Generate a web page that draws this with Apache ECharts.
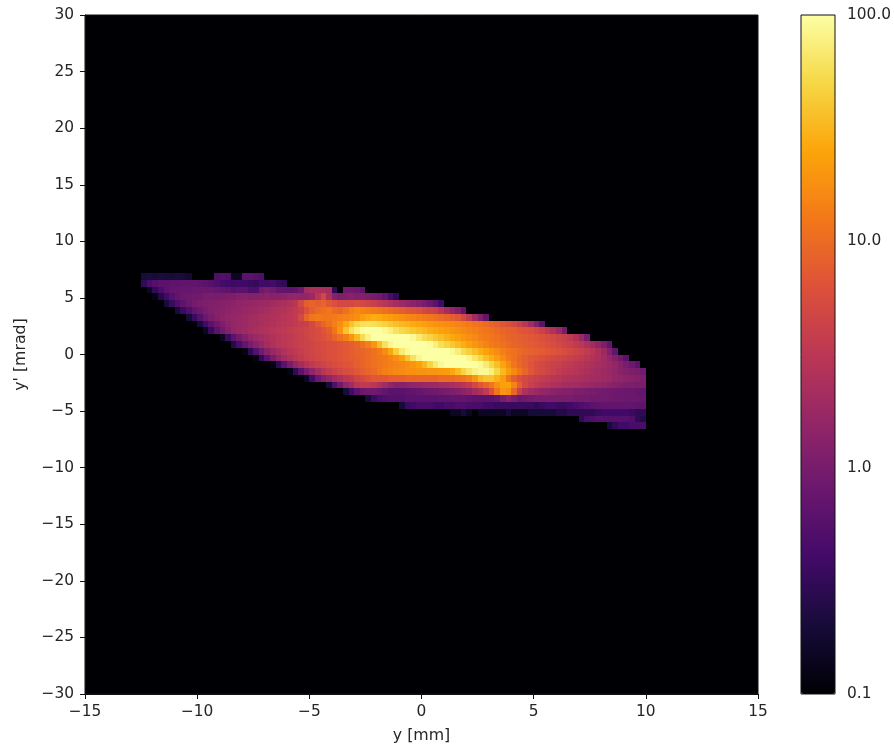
<!DOCTYPE html>
<html><head><meta charset="utf-8">
<style>html,body{margin:0;padding:0;background:#fff}#c{width:894px;height:745px}</style>
<script src="https://cdn.jsdelivr.net/npm/echarts@6/dist/echarts.min.js"></script>
</head><body><div id="c"></div>
<script>
// Intensity per row of y' bins (0.6 mrad), columns are 0.25 mm wide from y = -12.5 mm.
const cbMinor = [0.2,0.3,0.4,0.5,0.6,0.7,0.8,0.9,2,3,4,5,6,7,8,9,20,30,40,50,60,70,80,90];
const rowBottoms = [6.6,6,5.4,4.8,4.2,3.6,3,2.4,1.8,1.2,0.6,0,-0.6,-1.2,-1.8,-2.4,-3,-3.6,-4.2,-4.8,-5.4,-6,-6.6];
const rowStarts  = [0,0,1,2,3,5,7,9,11,14,15,18,20,23,26,29,33,36,40,46,55,78,83];
const r66=[.2,.22,.2,.22,.2,.2,.22,.2,.18,0,0,0,0,.5,.55,.5,.15,.15,.6,.6,.55,.5];
const r60=[.3,.45,.55,.6,.62,.65,.65,.68,.7,.7,.65,.6,.55,.5,.42,.4,.38,.4,.38,.35,.32,.4,.4,.42,.35,.3];
const r54=[.15,.3,.45,.6,.7,.72,.75,.75,.8,.8,.8,.8,.75,.7,.65,.55,.6,.6,.5,.5,.9,1,.9,.7,.7,.65,.7,.9,2,2.4,2.4,2.3,2.2,.3,.1,.9,.9,.85,.7];
const r48=[.12,.25,.4,.55,.7,.8,.85,.9,.9,1,1,1,1.05,1.1,1.1,1.2,1.3,1.2,1.25,1.3,1.4,1.3,1.3,1.4,1.5,1.6,1.5,1.5,1.8,3,5,2.5,1.3,1.1,1.2,1.3,1.2,1.2,1.1,1,.9,.7,.45,.3];
const r42=[.1,.2,.35,.5,.65,.8,.95,1.05,1.1,1.15,1.2,1.25,1.3,1.4,1.5,1.5,1.6,1.7,1.8,1.9,2,2.2,2.4,2.6,3,5,8,9,8,9,7,6,5,5,5,5.5,5,4.5,4,3.5,3,2.6,2.2,1.8,1.6,1.4,1.2,1,.8,.6,.4];
const r36=[.1,.2,.35,.5,.7,.85,1,1.15,1.25,1.3,1.4,1.5,1.6,1.7,1.8,1.9,2,2.2,2.4,2.6,2.7,3,3.5,4,6,8,10,11,12,10,9,11,14,16,15,14,13,12,11,10,9,8,7,6.5,6,5,4.5,4,3,2.2,1.6,1.2,.7];
const r30=[.1,.2,.35,.55,.8,1,1.2,1.4,1.5,1.6,1.7,1.8,2,2.1,2.3,2.4,2.5,2.7,2.9,3.2,3.5,5,9,12,13,12,12,13,14,15,16,18,22,26,28,27,24,22,20,18,16,15,14,13,12,11,10,9,8,7,5,3.5,2,1.2,.7];
const r24=[.1,.2,.4,.6,.85,1.1,1.4,1.6,1.7,1.8,2,2.1,2.3,2.5,2.6,2.8,3,3.2,3.5,3.8,4,5,7,9,11,14,18,26,38,50,58,60,58,52,46,40,36,32,30,27,25,23,21,19,18,17,16,15,14,13,12,11,10,9,8,7,6,5,4,3,2,1.2,.6];
const r18=[.15,.35,.6,.9,1.2,1.5,1.7,1.9,2.1,2.3,2.5,2.7,2.9,3.1,3.3,3.6,3.9,4.2,4.6,5,5.5,6.5,8,12,20,38,60,80,95,100,100,100,90,75,60,52,46,40,36,32,28,26,24,22,20,18,16,15,14,13,12,11,10,9,8.5,8,7,6.5,6,5,4.2,3.4,2.6,1.8,1];
const r12=[.15,.35,.6,.9,1.2,1.5,1.8,2,2.3,2.6,2.9,3.1,3.4,3.7,4,4.5,5,5.5,6,7,9,11,14,20,32,55,80,100,100,100,100,100,100,100,90,70,56,48,40,35,30,26,23,20,18,16,14,13,12,11,10,9,8.5,8,7.5,7,6.5,6,5.5,5,4.5,4,3.4,2.6,1.8,1];
const r06=[.1,.25,.45,.7,1,1.3,1.7,2.1,2.5,2.9,3.2,3.5,3.8,4,4.3,4.6,5,5.4,5.8,6.2,6.7,7.2,8,9,11,14,20,35,60,85,100,100,100,100,100,100,95,75,58,48,40,34,28,24,20,17,15,13,12,11,10,9,8.5,8,7.5,7,6.5,6,5.5,5,4.5,4,3.5,3,2.5,2,1.5,1.1,.7];
const r00=[.12,.3,.55,.9,1.3,1.7,2.1,2.6,3,3.4,3.8,4.2,4.6,5,5.4,5.8,6.2,6.7,7.2,7.8,8.4,9,10,11,13,17,26,45,70,90,100,100,100,100,100,100,100,90,72,55,44,36,29,24,20,17,14,12,11,10,9,8.5,8,7.5,7,6.5,6,5.5,5,4.5,4,3.5,3,2.4,1.8,1.2,.7];
const m06=[.12,.3,.6,1,1.5,2,2.5,3,3.5,4,4.5,4.9,5.3,5.7,6.1,6.6,7.1,7.6,8.2,9,10,11,12,13,15,18,24,38,60,85,100,100,100,100,100,100,100,100,85,65,48,36,28,22,17,13,11,9,8,7,6.5,6,5.5,5,4.7,4.4,4,3.7,3.4,3,2.7,2.4,2,1.6,1.2,.9,.6];
const m12=[.12,.3,.6,1,1.5,2.1,2.7,3.3,3.9,4.5,5,5.5,6,6.5,7,8,9,10,11,12,13,14,15,16,18,20,24,32,48,70,90,100,100,100,100,100,100,90,70,50,36,25,17,12,9.5,8,6.5,5.5,5,4.5,4.2,3.9,3.6,3.3,3,2.8,2.6,2.4,2.2,2,1.8,1.6,1.3,1,.8,.6];
const m18=[.12,.3,.6,1,1.5,2.2,2.9,3.6,4.2,4.8,5.5,6,7,8,9,10,12,14,15,16,17,18,18,19,19,20,20,21,22,26,34,48,65,80,90,90,75,50,32,22,16,12,9,7,5.5,5,4.5,4,3.6,3.2,3,2.8,2.6,2.4,2.2,2,1.9,1.7,1.5,1.3,1.2,1.1,1,.9];
const m24=[.15,.4,.8,1.2,1.5,2,2.5,3,3.5,4.5,5,6,7,7,7,8,8,8,9,9,9,9,9,9,10,10,10,11,12,14,20,32,38,38,30,22,12,8,6,5,4.5,4,3.6,3.3,3,2.8,2.6,2.5,2.4,2.3,2.2,2.1,2,1.9,1.8,1.6,1.5,1.4,1.3,1.2,1.1];
const m30=[.2,.5,.9,1.5,2,3,3.5,3.5,3,2.5,2,1.5,1.3,1.3,1.4,1.5,1.6,1.7,1.8,1.9,2,2.2,2.4,2.6,3,3.5,5,7,9,12,18,24,24,15,8,5,4,3.5,3,2.8,2.6,2.4,2.2,2.1,2,1.9,1.8,1.7,1.6,1.5,1.4,1.3,1.2,1.1,1.1,1,1];
const m36=[.2,.4,.6,.8,.9,.9,.8,.7,.6,.6,.6,.65,.7,.75,.8,.85,.9,.95,1,1.1,1.2,1.4,1.6,2,2.5,3.5,6,12,20,18,9,4,2.5,2,1.8,1.6,1.5,1.4,1.3,1.2,1.2,1.1,1.1,1,1,.95,.9,.9,.85,.85,.8,.8,.75,.7];
const m42=[.2,.35,.45,.5,.55,.55,.55,.6,.6,.6,.6,.6,.6,.65,.65,.7,.7,.7,.65,.6,.6,.6,.6,.7,1,1.3,1,.8,.9,.95,1,1,1,1,1,1,1,.95,.95,.95,.9,.9,.9,.9,.85,.85,.8,.8,.8,.75];
const m48=[.2,.35,.4,.45,.45,.45,.4,.4,.45,.45,.5,.5,.45,.45,.45,.4,.4,.35,.35,.35,.35,.35,.35,.35,.3,.35,.4,.4,.35,.35,.4,.45,.5,.55,.6,.65,.7,.7,.7,.7,.7,.7,.65,.65];
const m54=[.15,.15,.2,.15,.1,.15,.15,.15,.15,.15,.2,.15,.15,.15,.2,.2,.2,.2,.2,.25,.25,.3,.3,.3,.3,.3,.35,.4,.4,.4,.4,.4,.35,.3,.3];
const m60=[.3,.45,.5,.55,.55,.55,.55,.55,.55,.5,.3,.25];
const m66=[.2,.3,.4,.4,.45,.45,.45];
const rows=[r66,r60,r54,r48,r42,r36,r30,r24,r18,r12,r06,r00,m06,m12,m18,m24,m30,m36,m42,m48,m54,m60,m66];

const inferno=['#000004','#160b39','#420a68','#6a176e','#932667','#bc3754','#dd513a','#f37819','#fca50a','#f6d746','#fcffa4'];
const binX=0.25, binY=0.6;
const cells=[];
rows.forEach((vals,r)=>{
  vals.forEach((v,k)=>{
    const i=rowStarts[r]+k;
    if(v>0&&i<90) cells.push([-12.5+(i+0.5)*binX,rowBottoms[r]+binY/2,Math.log10(v)]);
  });
});
const txt='#262626', fs=15.4, ff='"DejaVu Sans"';
const minus=v=>String(v).replace('-','\u2212');
const lbl=(extra)=>Object.assign({color:txt,fontSize:fs,fontFamily:ff},extra||{});
const line={lineStyle:{color:'#111',width:1}};
const chart=echarts.init(document.getElementById('c'),null,{renderer:'canvas'});
chart.setOption({
  animation:false,
  backgroundColor:'#fff',
  grid:[
    {left:85,top:15,width:673,height:679,outerBoundsMode:'none',show:true,backgroundColor:'#000004',borderColor:'#111',borderWidth:1},
    {left:801,top:15,width:34,height:679,outerBoundsMode:'none',show:true,backgroundColor:'transparent',borderColor:'#111',borderWidth:1,z:5}
  ],
  xAxis:[
    {type:'value',gridIndex:0,min:-15,max:15,interval:5,position:'bottom',splitLine:{show:false},
     axisLine:{onZero:false,...line},axisTick:{length:5,...line},
     axisLabel:lbl({formatter:minus,margin:10}),
     name:'y [mm]',nameLocation:'middle',nameGap:34,nameTextStyle:lbl({fontSize:15.8})},
    {type:'category',gridIndex:1,data:[''],show:false}
  ],
  yAxis:[
    {type:'value',gridIndex:0,min:-30,max:30,interval:5,position:'left',splitLine:{show:false},
     axisLine:{onZero:false,...line},axisTick:{length:5,...line},
     axisLabel:lbl({formatter:minus,margin:11}),
     name:"y' [mrad]",nameLocation:'middle',nameGap:56,nameTextStyle:lbl({fontSize:15.8})},
    {type:'log',logBase:10,gridIndex:1,min:0.1,max:100,position:'right',z:6,splitLine:{show:false},
     axisLine:{onZero:false,...line},axisTick:{length:6,...line},
     axisLabel:lbl({margin:12,formatter:v=>Number(v).toFixed(1)})},
    {type:'value',gridIndex:1,min:-1,max:2,position:'right',z:6,splitLine:{show:false},
     axisLine:{show:false,onZero:false},axisTick:{length:3,customValues:cbMinor.map(Math.log10),...line},
     axisLabel:{show:false}}
  ],
  visualMap:{type:'continuous',seriesIndex:0,dimension:2,min:-1,max:2,inRange:{color:inferno},
    left:801,top:15,itemWidth:34,itemHeight:679,text:null,calculable:false,hoverLink:false,z:1,padding:0,realtime:false},
  series:[{type:'custom',xAxisIndex:0,yAxisIndex:0,data:cells,silent:true,encode:{x:0,y:1},
    clip:true,
    renderItem:function(params,api){
      const c=api.coord([api.value(0),api.value(1)]);
      const s=api.size([binX,binY]);
      const x0=Math.round(c[0]-s[0]/2), x1=Math.round(c[0]+s[0]/2);
      const y0=Math.round(c[1]-s[1]/2), y1=Math.round(c[1]+s[1]/2);
      return {type:'rect',shape:{x:x0,y:y0,width:x1-x0,height:y1-y0},
        style:{fill:api.visual('color')}};
    }}]
});
</script></body></html>
